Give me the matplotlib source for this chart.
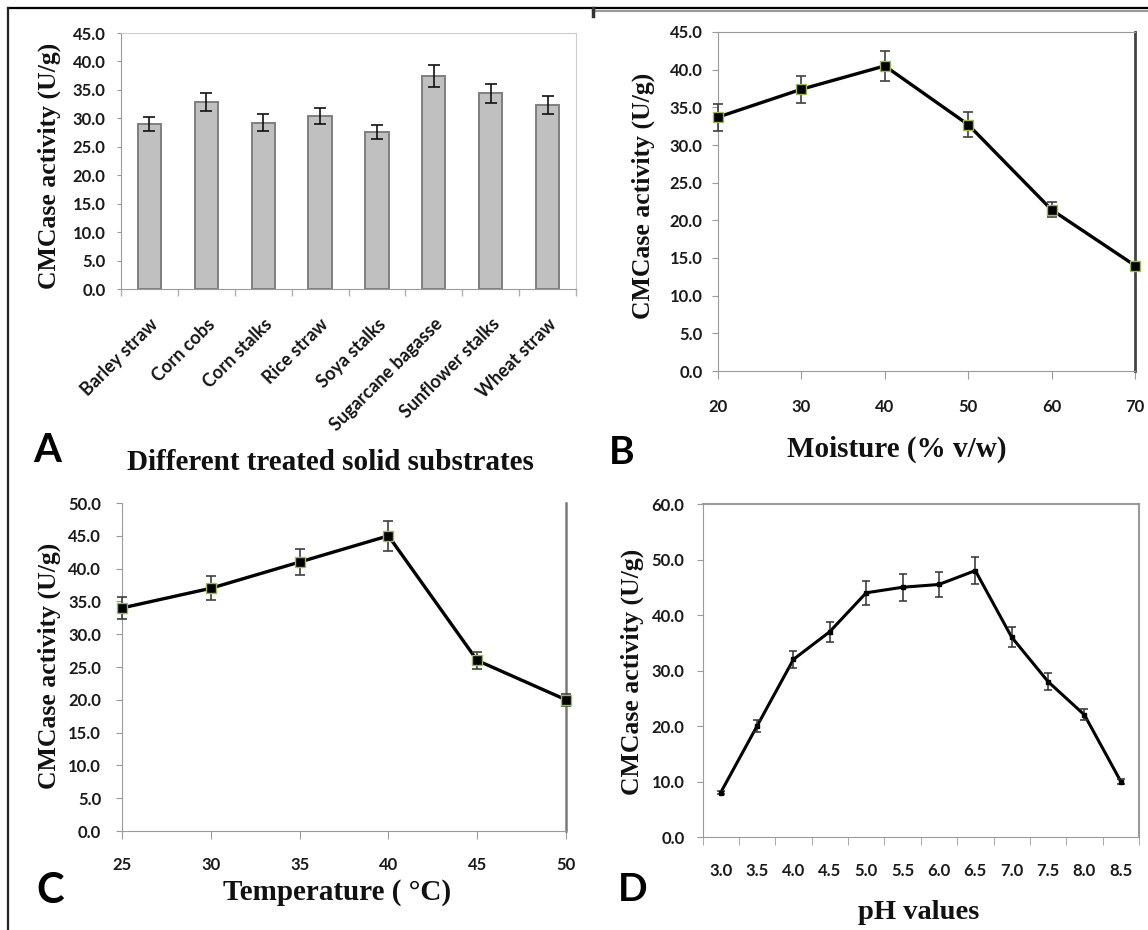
import matplotlib
matplotlib.use("Agg")
import matplotlib.pyplot as plt
from matplotlib.lines import Line2D
import numpy as np

W, H = 1148, 930

# ---------------- data ----------------
substrates = ["Barley straw", "Corn cobs", "Corn stalks", "Rice straw",
              "Soya stalks", "Sugarcane bagasse", "Sunflower stalks", "Wheat straw"]
activity_a = [29.0, 32.9, 29.2, 30.4, 27.6, 37.4, 34.4, 32.3]
err_a = [1.3, 1.6, 1.5, 1.4, 1.3, 1.9, 1.7, 1.6]

moisture = [20, 30, 40, 50, 60, 70]
activity_b = [33.7, 37.4, 40.5, 32.7, 21.4, 14.0]
err_b = [1.8, 1.8, 2.0, 1.7, 1.0, 0.3]

temperature = [25, 30, 35, 40, 45, 50]
activity_c = [34.0, 37.0, 41.0, 45.0, 26.0, 20.0]
err_c = [1.7, 1.8, 2.0, 2.3, 1.3, 0.9]

ph_labels = ["3.0", "3.5", "4.0", "4.5", "5.0", "5.5", "6.0", "6.5", "7.0", "7.5", "8.0", "8.5"]
activity_d = [8.0, 20.0, 32.0, 37.0, 44.0, 45.0, 45.5, 48.0, 36.0, 28.0, 22.0, 10.0]
err_d = [0.3, 1.0, 1.5, 1.8, 2.2, 2.4, 2.3, 2.5, 1.8, 1.5, 1.0, 0.4]

ylabel = "CMCase activity (U/g)"

SANS = ["Lato", "DejaVu Sans"]
SERIF = ["Liberation Serif", "DejaVu Serif"]
TICK_FS = 12

fig = plt.figure(figsize=(W / 100, H / 100), dpi=100)


def px_axes(l, t, r, b):
    return fig.add_axes([l / W, 1 - b / H, (r - l) / W, (b - t) / H])


def fx(x):
    return x / W


def fy(y):
    return 1 - y / H


def style_labels(labels, fs=TICK_FS):
    for lab in labels:
        lab.set_fontfamily(SANS)
        lab.set_fontweight("bold")
        lab.set_fontsize(fs)
        lab.set_color("#1a1a1a")


GRAY = "#9a9a9a"

# ---------------- Panel A ----------------
axA = px_axes(121, 33, 576, 289)
xa = np.arange(len(substrates))
axA.bar(xa, activity_a, width=0.41, color="#c0c0c0", edgecolor="#7f7f7f", linewidth=1.4,
        zorder=2)
axA.errorbar(xa, activity_a, yerr=err_a, fmt="none", ecolor="#111111", elinewidth=1.2,
             capsize=4, capthick=1.2, zorder=3)
axA.set_xlim(-0.5, len(substrates) - 0.5)
axA.set_ylim(0, 45)
axA.set_yticks(np.arange(0, 45.1, 5))
axA.set_yticklabels([f"{v:.1f}" for v in np.arange(0, 45.1, 5)])
axA.set_xticks(xa)
axA.set_xticklabels(substrates, rotation=45, ha="right", rotation_mode="anchor",
                    fontfamily=SANS, fontweight="bold", fontsize=13, color="#151515")
axA.set_xticks(np.arange(-0.5, len(substrates)), minor=True)
axA.tick_params(axis="x", which="major", length=0, pad=19)
axA.tick_params(axis="x", which="minor", length=5, color="#b0b0b0", width=1)
axA.tick_params(axis="y", length=3, color=GRAY, pad=8)
for s in ["left", "bottom"]:
    axA.spines[s].set_color(GRAY)
for s in ["top", "right"]:
    axA.spines[s].set_color("#cccccc")
style_labels(axA.get_yticklabels())

# ---------------- Panel B ----------------
axB = px_axes(718, 32, 1135, 371)
axB.plot(moisture, activity_b, color="black", lw=2.4, zorder=3, clip_on=False)
axB.errorbar(moisture, activity_b, yerr=err_b, fmt="none", ecolor="#404040",
             elinewidth=1.2, capsize=3.3, capthick=1.2, zorder=4, clip_on=False)
axB.plot(moisture, activity_b, ls="none", marker="s", ms=7.5, mfc="black",
         mec="#9bbb59", mew=1.0, zorder=5, clip_on=False)
axB.set_xlim(20, 70)
axB.set_ylim(0, 45)
axB.set_xticks(moisture)
axB.set_yticks(np.arange(0, 45.1, 5))
axB.set_yticklabels([f"{v:.1f}" for v in np.arange(0, 45.1, 5)])
axB.tick_params(axis="y", length=4, color=GRAY, pad=7)
axB.tick_params(axis="x", length=6, color=GRAY, pad=14)
style_labels(axB.get_xticklabels())
style_labels(axB.get_yticklabels())
for s in ["left", "bottom", "top"]:
    axB.spines[s].set_color(GRAY)
axB.spines["right"].set_color("#444444")
axB.spines["right"].set_linewidth(2.0)

# ---------------- Panel C ----------------
axC = px_axes(122, 503, 566, 831)
axC.plot(temperature, activity_c, color="black", lw=2.4, zorder=3, clip_on=False)
axC.errorbar(temperature, activity_c, yerr=err_c, fmt="none", ecolor="#404040",
             elinewidth=1.2, capsize=3.3, capthick=1.2, zorder=4, clip_on=False)
axC.plot(temperature, activity_c, ls="none", marker="s", ms=7.5, mfc="black",
         mec="#9bbb59", mew=1.0, zorder=5, clip_on=False)
axC.set_xlim(25, 50)
axC.set_ylim(0, 50)
axC.set_xticks(temperature)
axC.set_yticks(np.arange(0, 50.1, 5))
axC.set_yticklabels([f"{v:.1f}" for v in np.arange(0, 50.1, 5)])
axC.tick_params(axis="y", length=4, color=GRAY, pad=11)
axC.tick_params(axis="x", length=6, color=GRAY, pad=13)
style_labels(axC.get_xticklabels())
style_labels(axC.get_yticklabels())
axC.spines["top"].set_visible(False)
for s in ["left", "bottom"]:
    axC.spines[s].set_color(GRAY)
axC.spines["right"].set_color("#7a7a7a")
axC.spines["right"].set_linewidth(1.8)

# ---------------- Panel D ----------------
axD = px_axes(702.5, 504, 1139, 837)
xd = np.arange(len(ph_labels))
axD.plot(xd, activity_d, color="black", lw=2.2, zorder=3)
axD.errorbar(xd, activity_d, yerr=err_d, fmt="none", ecolor="#303030",
             elinewidth=1.1, capsize=3, capthick=1.1, zorder=4)
axD.plot(xd, activity_d, ls="none", marker="s", ms=3.5, mfc="black", mec="black",
         zorder=5)
axD.set_xlim(-0.5, len(ph_labels) - 0.5)
axD.set_ylim(0, 60)
axD.set_xticks(xd)
axD.set_xticklabels(ph_labels)
axD.set_xticks(np.arange(-0.5, len(ph_labels)), minor=True)
axD.set_yticks(np.arange(0, 60.1, 10))
axD.set_yticklabels([f"{v:.1f}" for v in np.arange(0, 60.1, 10)])
axD.tick_params(axis="x", which="major", length=0, pad=19)
axD.tick_params(axis="x", which="minor", length=6, color=GRAY)
axD.tick_params(axis="y", length=4, color=GRAY, pad=9)
style_labels(axD.get_xticklabels())
style_labels(axD.get_yticklabels())
for s in ["left", "bottom", "top", "right"]:
    axD.spines[s].set_color(GRAY)
axD.spines["right"].set_linewidth(1.5)
axD.spines["top"].set_linewidth(1.5)

# ---------------- texts ----------------
for (x, y) in [(49, 166), (643, 196), (49, 666), (632, 672)]:
    fig.text(fx(x), fy(y), ylabel, rotation=90, ha="center", va="center",
             fontfamily=SERIF, fontweight="bold", fontsize=18.5, color="#111111")

fig.text(fx(330), fy(463), "Different treated solid substrates", ha="center", va="center",
         fontfamily=SERIF, fontweight="bold", fontsize=21, color="#111111")
fig.text(fx(897), fy(449), "Moisture (% v/w)", ha="center", va="center",
         fontfamily=SERIF, fontweight="bold", fontsize=21, color="#111111")
fig.text(fx(337), fy(892), "Temperature ( \u00b0C)", ha="center", va="center",
         fontfamily=SERIF, fontweight="bold", fontsize=21, color="#111111")
fig.text(fx(919), fy(912), "pH values", ha="center", va="center",
         fontfamily=SERIF, fontweight="bold", fontsize=20.5, color="#111111")

for (x, y, t, fs) in [(47, 450, "A", 29), (622, 452, "B", 28),
                      (50, 891, "C", 30), (633, 889, "D", 28)]:
    fig.text(fx(x), fy(y), t, ha="center", va="center", fontfamily=SANS,
             fontweight="bold", fontsize=fs, color="black")

# ---------------- frame lines ----------------
fig.add_artist(Line2D([fx(8), fx(1148)], [fy(8), fy(8)], color="black", lw=1.6))
fig.add_artist(Line2D([fx(8), fx(8)], [fy(8), fy(930)], color="#222222", lw=1.6))
fig.add_artist(Line2D([fx(593), fx(1148)], [fy(11), fy(11)], color="#999999", lw=1.5))
fig.add_artist(Line2D([fx(592.5), fx(592.5)], [fy(8), fy(16)], color="#333333", lw=2.5))

fig.savefig("out.png", dpi=100)
